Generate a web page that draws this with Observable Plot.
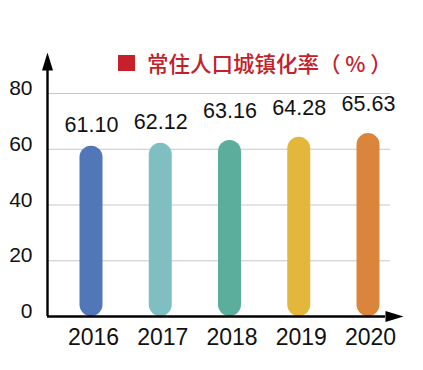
<!DOCTYPE html>
<html><head><meta charset="utf-8">
<script src="https://cdn.jsdelivr.net/npm/d3@7"></script>
<script src="https://cdn.jsdelivr.net/npm/@observablehq/plot@0.6"></script>
<style>
body{margin:0;background:#fff;}
#wrap{position:relative;width:423px;height:370px;}
#title{position:absolute;left:118px;top:49px;font-family:"Noto Sans CJK SC";font-size:21.5px;font-weight:500;color:#c3202a;white-space:nowrap;line-height:28px;display:flex;align-items:center;}
#title .sq{display:inline-block;width:17px;height:16px;background:#c8202a;margin-right:12px;}
</style></head><body>
<div id="wrap"><div id="title"><span class="sq"></span><span id="ttext"></span></div></div>
<script>
const years = [2016, 2017, 2018, 2019, 2020];
const rates = [61.10, 62.12, 63.16, 64.28, 65.63];
const barColors = ["#5277b9", "#80bfc1", "#5bae9b", "#e3b63c", "#da853b"];
const yTicks = [0, 20, 40, 60, 80];
const titleText = "常住人口城镇化率（ % ）";

document.getElementById("ttext").textContent = titleText;

const data = years.map((year, i) => ({year, rate: rates[i], color: barColors[i], i}));

const pxPerYear = 69.25;
const xLeft = 2016 - 44 / pxPerYear;    // y-axis position
const xRight = 2020 + 22 / pxPerYear;   // end of gridlines
const xArrowBase = 2020 + 17 / pxPerYear;
const yArrowBase = 88.25;
const halfBar = 11.5 / pxPerYear;

const arrowHead = {
  draw(ctx) { ctx.moveTo(0, -18); ctx.lineTo(5.5, 0); ctx.lineTo(-5.5, 0); ctx.closePath(); }
};

const chart = Plot.plot({
  width: 423,
  height: 370,
  marginTop: 93,
  marginBottom: 54,
  marginLeft: 47,
  marginRight: 33,
  style: {fontFamily: "'Liberation Sans', Arial, sans-serif", fontSize: "21px", color: "#111", background: "#fff"},
  x: {type: "linear", domain: [xLeft, xRight]},
  y: {domain: [0, 80]},
  color: {type: "identity"},
  marks: [
    Plot.gridY(yTicks.slice(1), {stroke: "#c8c8c8", strokeOpacity: 1, strokeWidth: 1}),
    Plot.rectY(data, {x1: d => d.year - halfBar, x2: d => d.year + halfBar, y1: 0, y2: "rate", fill: "color", rx: 11.5}),
    Plot.ruleX([xLeft], {y1: 0, y2: yArrowBase, stroke: "#000", strokeWidth: 2.4}),
    Plot.ruleY([0], {x1: xLeft, x2: xArrowBase, stroke: "#000", strokeWidth: 2.4}),
    Plot.dot([0], {x: xLeft, y: yArrowBase, symbol: arrowHead, fill: "#000", stroke: null, r: 5}),
    Plot.dot([0], {x: xArrowBase, y: 0, symbol: arrowHead, fill: "#000", stroke: null, r: 5, rotate: 90}),
    Plot.axisY(yTicks, {tickSize: 0, tickPadding: 15, fontSize: 21, dy: -5, label: null}),
    Plot.axisX(years, {tickSize: 0, tickPadding: 12, fontSize: 23, label: null, tickFormat: d => String(d), dx: 2}),
    Plot.text(data.filter(d => d.i < 2), {x: "year", y: "rate", text: d => d.rate.toFixed(2), dy: -21, fontSize: 21.5}),
    Plot.text(data.filter(d => d.i >= 2), {x: "year", y: "rate", text: d => d.rate.toFixed(2), dy: -29, fontSize: 21.5})
  ]
});
document.getElementById("wrap").prepend(chart);
</script>
</body></html>
